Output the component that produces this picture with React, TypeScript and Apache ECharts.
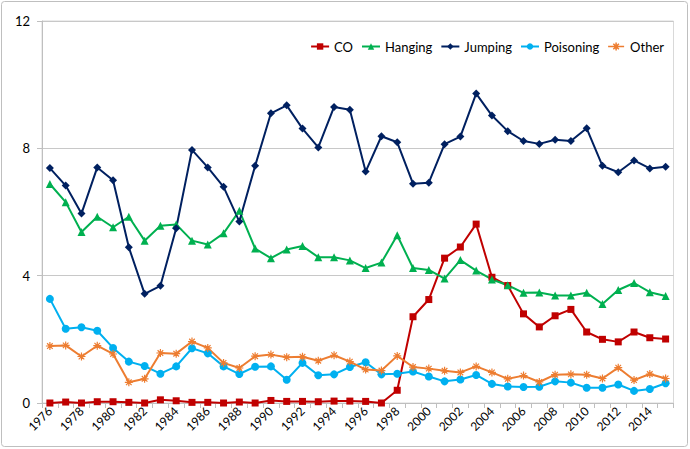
import React, { useEffect, useRef } from "react";
import * as echarts from "echarts";

const years: string[] = [];
for (let y = 1976; y <= 2015; y++) years.push(String(y));

const coValues = [
  0, 0.03, 0, 0.04, 0.04, 0.02, 0, 0.1, 0.07, 0.02, 0.02, 0, 0.03, 0,
  0.08, 0.05, 0.05, 0.04, 0.06, 0.06, 0.05, 0, 0.4, 2.71, 3.25, 4.55, 4.9, 5.62,
  3.95, 3.69, 2.8, 2.39, 2.74, 2.94, 2.23, 2.0, 1.92, 2.23, 2.05, 2.01,
];
const hangingValues = [
  6.88, 6.31, 5.37, 5.85, 5.52, 5.85, 5.1, 5.57, 5.61, 5.1, 4.98, 5.33, 6.04, 4.85,
  4.55, 4.82, 4.93, 4.58, 4.58, 4.48, 4.24, 4.41, 5.27, 4.24, 4.18, 3.91, 4.49, 4.16,
  3.88, 3.7, 3.46, 3.47, 3.38, 3.38, 3.46, 3.11, 3.55, 3.77, 3.48, 3.36,
];
const jumpingValues = [
  7.38, 6.83, 5.95, 7.4, 7.0, 4.89, 3.43, 3.68, 5.49, 7.95, 7.4, 6.79, 5.7, 7.45,
  9.1, 9.35, 8.62, 8.03, 9.3, 9.21, 7.27, 8.38, 8.19, 6.89, 6.92, 8.13, 8.37, 9.72,
  9.03, 8.54, 8.23, 8.14, 8.27, 8.23, 8.63, 7.45, 7.25, 7.62, 7.37, 7.42,
];
const poisoningValues = [
  3.27, 2.33, 2.38, 2.27, 1.73, 1.3, 1.16, 0.92, 1.15, 1.72, 1.56, 1.15, 0.91, 1.14,
  1.15, 0.73, 1.26, 0.87, 0.9, 1.13, 1.28, 0.9, 0.92, 0.99, 0.83, 0.68, 0.74, 0.88,
  0.6, 0.52, 0.5, 0.51, 0.68, 0.64, 0.48, 0.48, 0.58, 0.38, 0.44, 0.62,
];
const otherValues = [
  1.79, 1.81, 1.46, 1.8, 1.54, 0.65, 0.76, 1.57, 1.55, 1.93, 1.73, 1.26, 1.1, 1.47,
  1.52, 1.44, 1.45, 1.33, 1.5, 1.3, 1.05, 1.02, 1.48, 1.13, 1.08, 1.01, 0.96, 1.15,
  0.96, 0.76, 0.86, 0.66, 0.89, 0.9, 0.89, 0.77, 1.11, 0.72, 0.91, 0.77,
];

const FONT = "Lato, 'Open Sans', sans-serif";
const ASTERISK = "path://M0,5L10,5M5,0L5,10M1.5,1.5L8.5,8.5M8.5,1.5L1.5,8.5";
const ASTERISK_LEGEND =
  "path://M0,5L20,5M10,0L10,10M6.5,1.5L13.5,8.5M13.5,1.5L6.5,8.5";

function makeSeries(
  name: string,
  data: number[],
  color: string,
  symbol: string,
  symbolSize: number,
  extraItem: any = {}
) {
  return {
    name,
    type: "line",
    data,
    symbol,
    symbolSize,
    color,
    lineStyle: { color, width: 2 },
    itemStyle: { color, ...extraItem },
    emphasis: { disabled: true },
  };
}

export default function App() {
  const ref = useRef<HTMLDivElement>(null);
  useEffect(() => {
    if (!ref.current) return;
    const chart = echarts.init(ref.current, undefined, { renderer: "svg" });
    chart.setOption({
      animation: false,
      backgroundColor: "#ffffff",
      textStyle: { fontFamily: FONT },
      graphic: [
        {
          type: "rect",
          shape: { x: 1.5, y: 1.5, width: 686, height: 445, r: 3 },
          style: { fill: "none", stroke: "#bfbfbf", lineWidth: 1 },
          silent: true,
        },
      ],
      legend: {
        right: 21,
        top: 35,
        itemWidth: 18,
        itemHeight: 8,
        itemGap: 8,
        textStyle: { fontSize: 13, color: "#000", fontFamily: FONT },
        data: [
          "CO",
          "Hanging",
          "Jumping",
          "Poisoning",
          {
            name: "Other",
            icon: ASTERISK_LEGEND,
            itemStyle: { color: "#ed7d31", borderColor: "#ed7d31", borderWidth: 1.5 },
          },
        ],
      },
      grid: {
        left: 42,
        right: 16.5,
        top: 21,
        bottom: 46,
        show: true,
        borderColor: "#d9d9d9",
        borderWidth: 1,
      },
      xAxis: {
        type: "category",
        data: years,
        boundaryGap: true,
        axisLine: { lineStyle: { color: "#bfbfbf" } },
        axisTick: { show: true, interval: 0, length: 5, lineStyle: { color: "#bfbfbf" } },
        axisLabel: {
          interval: 1,
          rotate: 45,
          fontSize: 12,
          color: "#000",
          margin: 6,
          fontFamily: FONT,
        },
        splitLine: { show: false },
      },
      yAxis: {
        type: "value",
        min: 0,
        max: 12,
        interval: 4,
        axisLine: { show: true, lineStyle: { color: "#bfbfbf" } },
        axisTick: { show: true, length: 5, lineStyle: { color: "#bfbfbf" } },
        axisLabel: { fontSize: 13, color: "#000", margin: 12, fontFamily: FONT },
        splitLine: { lineStyle: { color: "#c8c8c8" } },
      },
      series: [
        makeSeries("CO", coValues, "#c00000", "rect", 7),
        makeSeries("Hanging", hangingValues, "#00b050", "triangle", 8),
        makeSeries("Jumping", jumpingValues, "#002060", "diamond", 8),
        makeSeries("Poisoning", poisoningValues, "#00b0f0", "circle", 8),
        makeSeries("Other", otherValues, "#ed7d31", ASTERISK, 8, {
          borderColor: "#ed7d31",
          borderWidth: 1.2,
        }),
      ],
    });
    return () => chart.dispose();
  }, []);
  return (
    <div
      ref={ref}
      style={{ position: "fixed", left: 0, top: 0, width: 690, height: 449 }}
    />
  );
}
